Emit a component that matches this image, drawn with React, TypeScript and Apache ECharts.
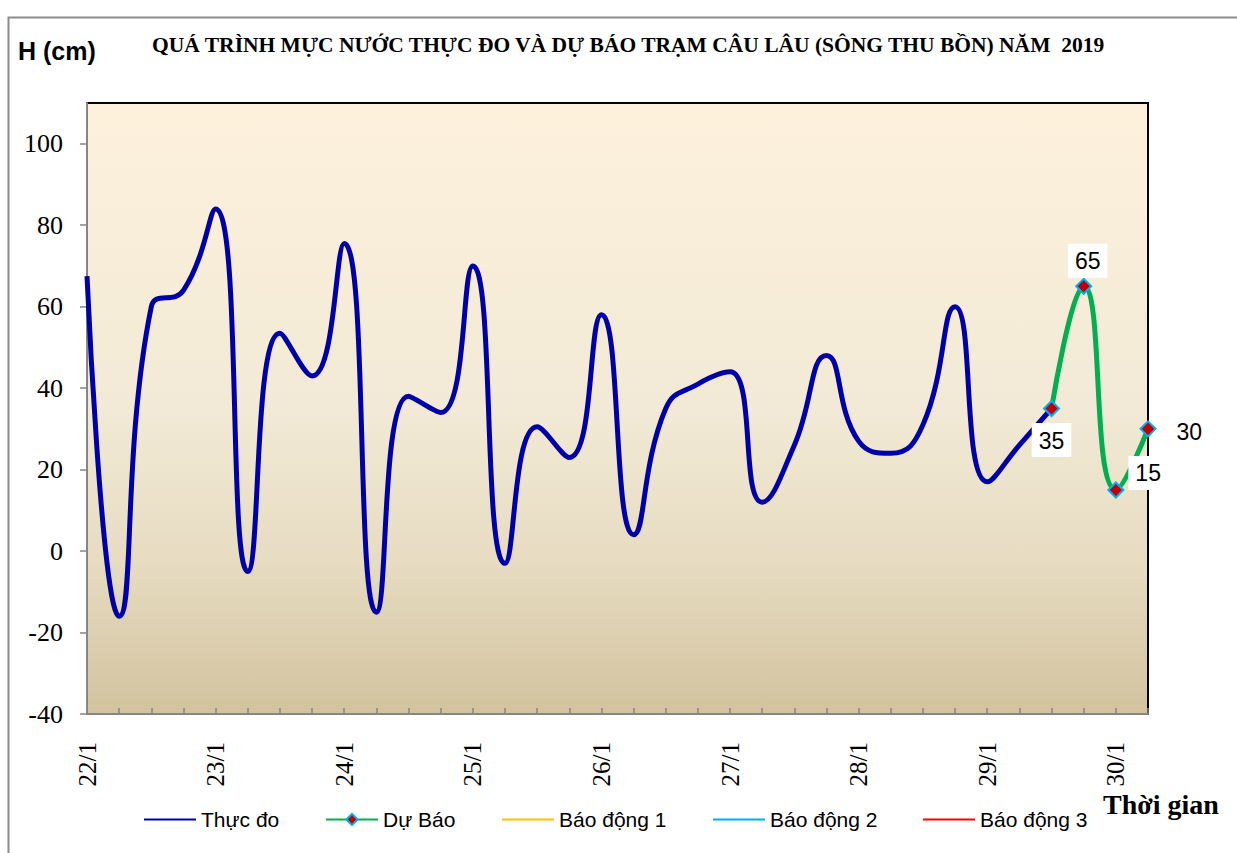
import React, { useEffect, useRef } from 'react';
import * as echarts from 'echarts';

// ---- data ----
const days = ['22/1', '23/1', '24/1', '25/1', '26/1', '27/1', '28/1', '29/1', '30/1'];
const hours = ['00h', '06h', '12h', '18h'];
const categories = days.flatMap((d) => hours.map((h) => `${d} ${h}`)).slice(0, 34);

const observed = [
  67.5, -16, 60, 64, 84, -5, 53.5, 43, 75.5, -15,
  38, 34, 70, -3, 30.5, 23, 58, 4, 35, 41,
  44, 12, 26, 48, 27, 24, 31, 60, 17, 26,
  35,
];
const forecastStart = 30;
const forecast = [35, 65, 15, 30];
const yTicks = [-40, -20, 0, 20, 40, 60, 80, 100];

const seriesNames = ['Thực đo', 'Dự Báo', 'Báo động 1', 'Báo động 2', 'Báo động 3'];
const seriesColors = ['#0000AA', '#00B050', '#FFC000', '#00B0F0', '#FF0000'];

const titleText = 'QUÁ TRÌNH MỰC NƯỚC THỰC ĐO VÀ DỰ BÁO TRẠM CÂU LÂU (SÔNG THU BỒN) NĂM  2019';

// label placement for forecast points (style only)
const forecastLabelCfg = [
  { position: 'bottom', distance: 6, offset: [0, 0] },
  { position: 'top', distance: 0, offset: [4, 0] },
  { position: 'right', distance: 4, offset: [0, -17] },
  { position: 'right', distance: 13, offset: [0, 3] },
];

const legendLeft = [139, 320, 497, 708, 918];

export default function App() {
  const ref = useRef<HTMLDivElement>(null);

  useEffect(() => {
    document.body.style.margin = '0';
    if (!ref.current) return;
    const chart = echarts.init(ref.current, undefined, { renderer: 'svg' });

    const forecastData: any[] = categories.map(() => null);
    forecast.forEach((v, i) => {
      const c = forecastLabelCfg[i];
      forecastData[forecastStart + i] = {
        value: v,
        label: {
          show: true,
          position: c.position,
          distance: c.distance,
          offset: c.offset,
        },
      };
    });

    const serif = 'Liberation Serif';
    const sans = 'Liberation Sans';

    const option: any = {
      animation: false,
      backgroundColor: '#ffffff',
      grid: {
        left: 87,
        top: 103,
        width: 1061,
        height: 611,
        show: true,
        borderColor: '#000000',
        borderWidth: 2,
        backgroundColor: new echarts.graphic.LinearGradient(0, 0, 0, 1, [
          { offset: 0, color: '#FDF1DC' },
          { offset: 0.5, color: '#F2EAD6' },
          { offset: 0.75, color: '#E7DCC2' },
          { offset: 1, color: '#D2C39E' },
        ]),
        containLabel: false,
      },
      xAxis: {
        type: 'category',
        data: categories,
        boundaryGap: false,
        axisLine: { show: true, onZero: false, lineStyle: { color: '#868686', width: 2 } },
        axisTick: {
          show: true,
          interval: 0,
          inside: true,
          length: 6,
          lineStyle: { color: '#868686', width: 1.5 },
        },
        axisLabel: {
          interval: 3,
          rotate: 90,
          margin: 28,
          fontFamily: serif,
          fontSize: 25,
          color: '#000',
          formatter: (v: string) => v.split(' ')[0],
        },
        splitLine: { show: false },
      },
      yAxis: {
        type: 'value',
        min: -40,
        max: 110,
        interval: 20,
        axisLine: { show: true, lineStyle: { color: '#868686', width: 2 } },
        axisTick: {
          show: true,
          inside: false,
          length: 7,
          customValues: yTicks,
          lineStyle: { color: '#868686', width: 1.5 },
        },
        axisLabel: {
          margin: 24,
          fontFamily: serif,
          fontSize: 26,
          color: '#000',
          formatter: (v: number) => (yTicks.includes(v) ? String(v) : ''),
        },
        splitLine: { show: false },
      },
      legend: seriesNames.map((name, i) => {
        const plain = i !== 1;
        return {
          data: [name],
          left: legendLeft[i],
          top: 804,
          itemWidth: 52,
          itemHeight: plain ? 2 : 14,
          itemGap: 0,
          icon: plain ? 'rect' : undefined,
          lineStyle: { width: 2 },
          textStyle: { fontFamily: sans, fontSize: 21, color: '#000' },
        };
      }),
      series: [
        {
          name: seriesNames[0],
          type: 'line',
          data: observed,
          smooth: 0.5,
          symbol: 'none',
          showSymbol: false,
          lineStyle: { color: seriesColors[0], width: 5 },
          itemStyle: { color: seriesColors[0] },
          z: 2,
        },
        {
          name: seriesNames[1],
          type: 'line',
          data: forecastData,
          smooth: 0.5,
          clip: false,
          symbol: 'diamond',
          symbolSize: 15,
          showSymbol: true,
          lineStyle: { color: seriesColors[1], width: 5 },
          itemStyle: { color: '#C00000', borderColor: '#00B0F0', borderWidth: 2 },
          label: {
            show: true,
            fontFamily: sans,
            fontSize: 23,
            color: '#000',
            backgroundColor: '#ffffff',
            padding: [6, 7, 5, 7],
          },
          z: 3,
        },
        ...[2, 3, 4].map((k) => ({
          name: seriesNames[k],
          type: 'line',
          data: [],
          symbol: 'none',
          lineStyle: { color: seriesColors[k], width: 2 },
          itemStyle: { color: seriesColors[k] },
        })),
      ],
      graphic: [
        {
          type: 'rect',
          left: 6,
          top: 15,
          shape: { width: 1300, height: 900 },
          style: { fill: 'none', stroke: '#8C8C8C', lineWidth: 2 },
          silent: true,
          z: -10,
        },
        {
          type: 'text',
          left: 18,
          top: 38,
          style: { text: 'H (cm)', font: `bold 25px ${sans}`, fill: '#000' },
        },
        {
          type: 'text',
          left: 152,
          top: 34,
          style: { text: titleText, font: `bold 21.5px ${serif}`, fill: '#000' },
        },
        {
          type: 'text',
          left: 1103,
          top: 790,
          style: { text: 'Thời gian', font: `bold 28px ${serif}`, fill: '#000' },
        },
      ],
    };

    chart.setOption(option);
    return () => chart.dispose();
  }, []);

  return <div ref={ref} style={{ width: 1237, height: 853 }} />;
}
